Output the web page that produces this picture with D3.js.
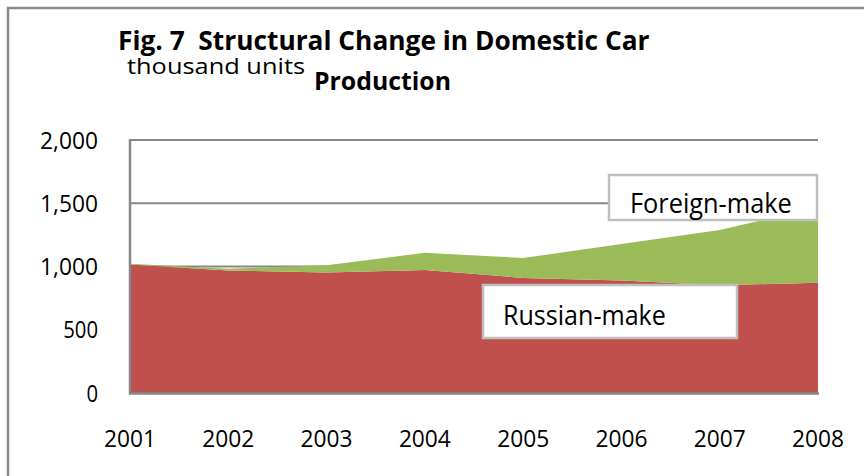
<!DOCTYPE html>
<html>
<head>
<meta charset="utf-8">
<script src="https://cdn.jsdelivr.net/npm/d3@7"></script>
<style>
  html, body { margin: 0; padding: 0; background: #fff; }
  svg { display: block; font-family: "Open Sans", "DejaVu Sans", sans-serif; }
</style>
</head>
<body>
<svg id="chart" width="864" height="476"></svg>
<script>
// ── Data ─────────────────────────────────────────────────────────────────────

const years       = ["2001", "2002", "2003", "2004", "2005", "2006", "2007", "2008"];
const russianMake = [1015, 968, 952, 972, 910, 890, 852, 872];
const foreignMake = [7, 15, 58, 136, 157, 288, 437, 598];
const yTicks      = [0, 500, 1000, 1500, 2000];

// ── Helpers ──────────────────────────────────────────────────────────────────

// Calibri-ish: keep the glyph height, squeeze horizontally to the wanted width
function squeezeText(parent, str, x, y, size, bold, width, anchor) {
  const t = parent.append("text")
    .attr("font-size", size)
    .attr("font-weight", bold ? "bold" : "normal")
    .attr("text-anchor", anchor || "start")
    .attr("fill", "#000")
    .text(str);
  const len = t.node().getComputedTextLength();
  const sx = width ? width / len : 0.88;
  t.attr("transform", `translate(${x},${y}) scale(${sx.toFixed(3)},1)`);
  return t;
}

// ── Main ─────────────────────────────────────────────────────────────────────

const svg = d3.select("#chart");

// outer frame (only top + left edges show in the picture)
svg.append("rect")
  .attr("x", 8).attr("y", 8)
  .attr("width", 880).attr("height", 500)
  .attr("fill", "none")
  .attr("stroke", "#8a8a8a")
  .attr("stroke-width", 2.5);

const x = d3.scalePoint().domain(years).range([130, 818]);
const y = d3.scaleLinear().domain([0, 2000]).range([393, 140]);

const rows = years.map((yr, i) => ({ year: yr, russian: russianMake[i], foreign: foreignMake[i] }));
const stack = d3.stack().keys(["russian", "foreign"])(rows);
const colors = { russian: "#c0504d", foreign: "#9bbb59" };

// gridlines
svg.append("g")
  .selectAll("line")
  .data(yTicks.filter(d => d > 0))
  .join("line")
  .attr("x1", 130).attr("x2", 818)
  .attr("y1", d => y(d)).attr("y2", d => y(d))
  .attr("stroke", "#878787")
  .attr("stroke-width", 2);

// stacked areas
const area = d3.area()
  .x(d => x(d.data.year))
  .y0(d => y(d[0]))
  .y1(d => y(d[1]));

svg.append("g")
  .selectAll("path")
  .data(stack)
  .join("path")
  .attr("fill", d => colors[d.key])
  .attr("d", area);

// axis lines
svg.append("line")
  .attr("x1", 130).attr("x2", 130).attr("y1", 139).attr("y2", 394)
  .attr("stroke", "#878787").attr("stroke-width", 2.5);
svg.append("line")
  .attr("x1", 129).attr("x2", 819).attr("y1", 393.5).attr("y2", 393.5)
  .attr("stroke", "#878787").attr("stroke-width", 2.5);

// y tick labels
const fmt = d3.format(",");
const yLab = svg.append("g");
yTicks.forEach(d => {
  const s = fmt(d);
  squeezeText(yLab, s, 98, y(d) + 8.5, 24, false, s.length * 11.6, "end");
});

// x tick labels
const xLab = svg.append("g");
years.forEach(d => squeezeText(xLab, d, x(d), 447, 24, false, 52, "middle"));

// series labels
function seriesLabel(text, bx, by, bw, bh, tx, ty, tw) {
  svg.append("rect")
    .attr("x", bx).attr("y", by)
    .attr("width", bw).attr("height", bh)
    .attr("fill", "#fff")
    .attr("stroke", "#bfbfbf")
    .attr("stroke-width", 2.5);
  squeezeText(svg, text, tx, ty, 27, false, tw);
}
seriesLabel("Foreign-make", 609, 175, 208, 45, 630, 213, 162);
seriesLabel("Russian-make", 483, 285, 254, 53, 503, 325, 163);

// titles
squeezeText(svg, "Fig. 7\u00a0\u00a0Structural Change in Domestic Car", 118, 50, 26, true, 532);
squeezeText(svg, "thousand units", 127, 74, 22, false, 178);
squeezeText(svg, "Production", 314, 90, 25, true, 137);
</script>
</body>
</html>
